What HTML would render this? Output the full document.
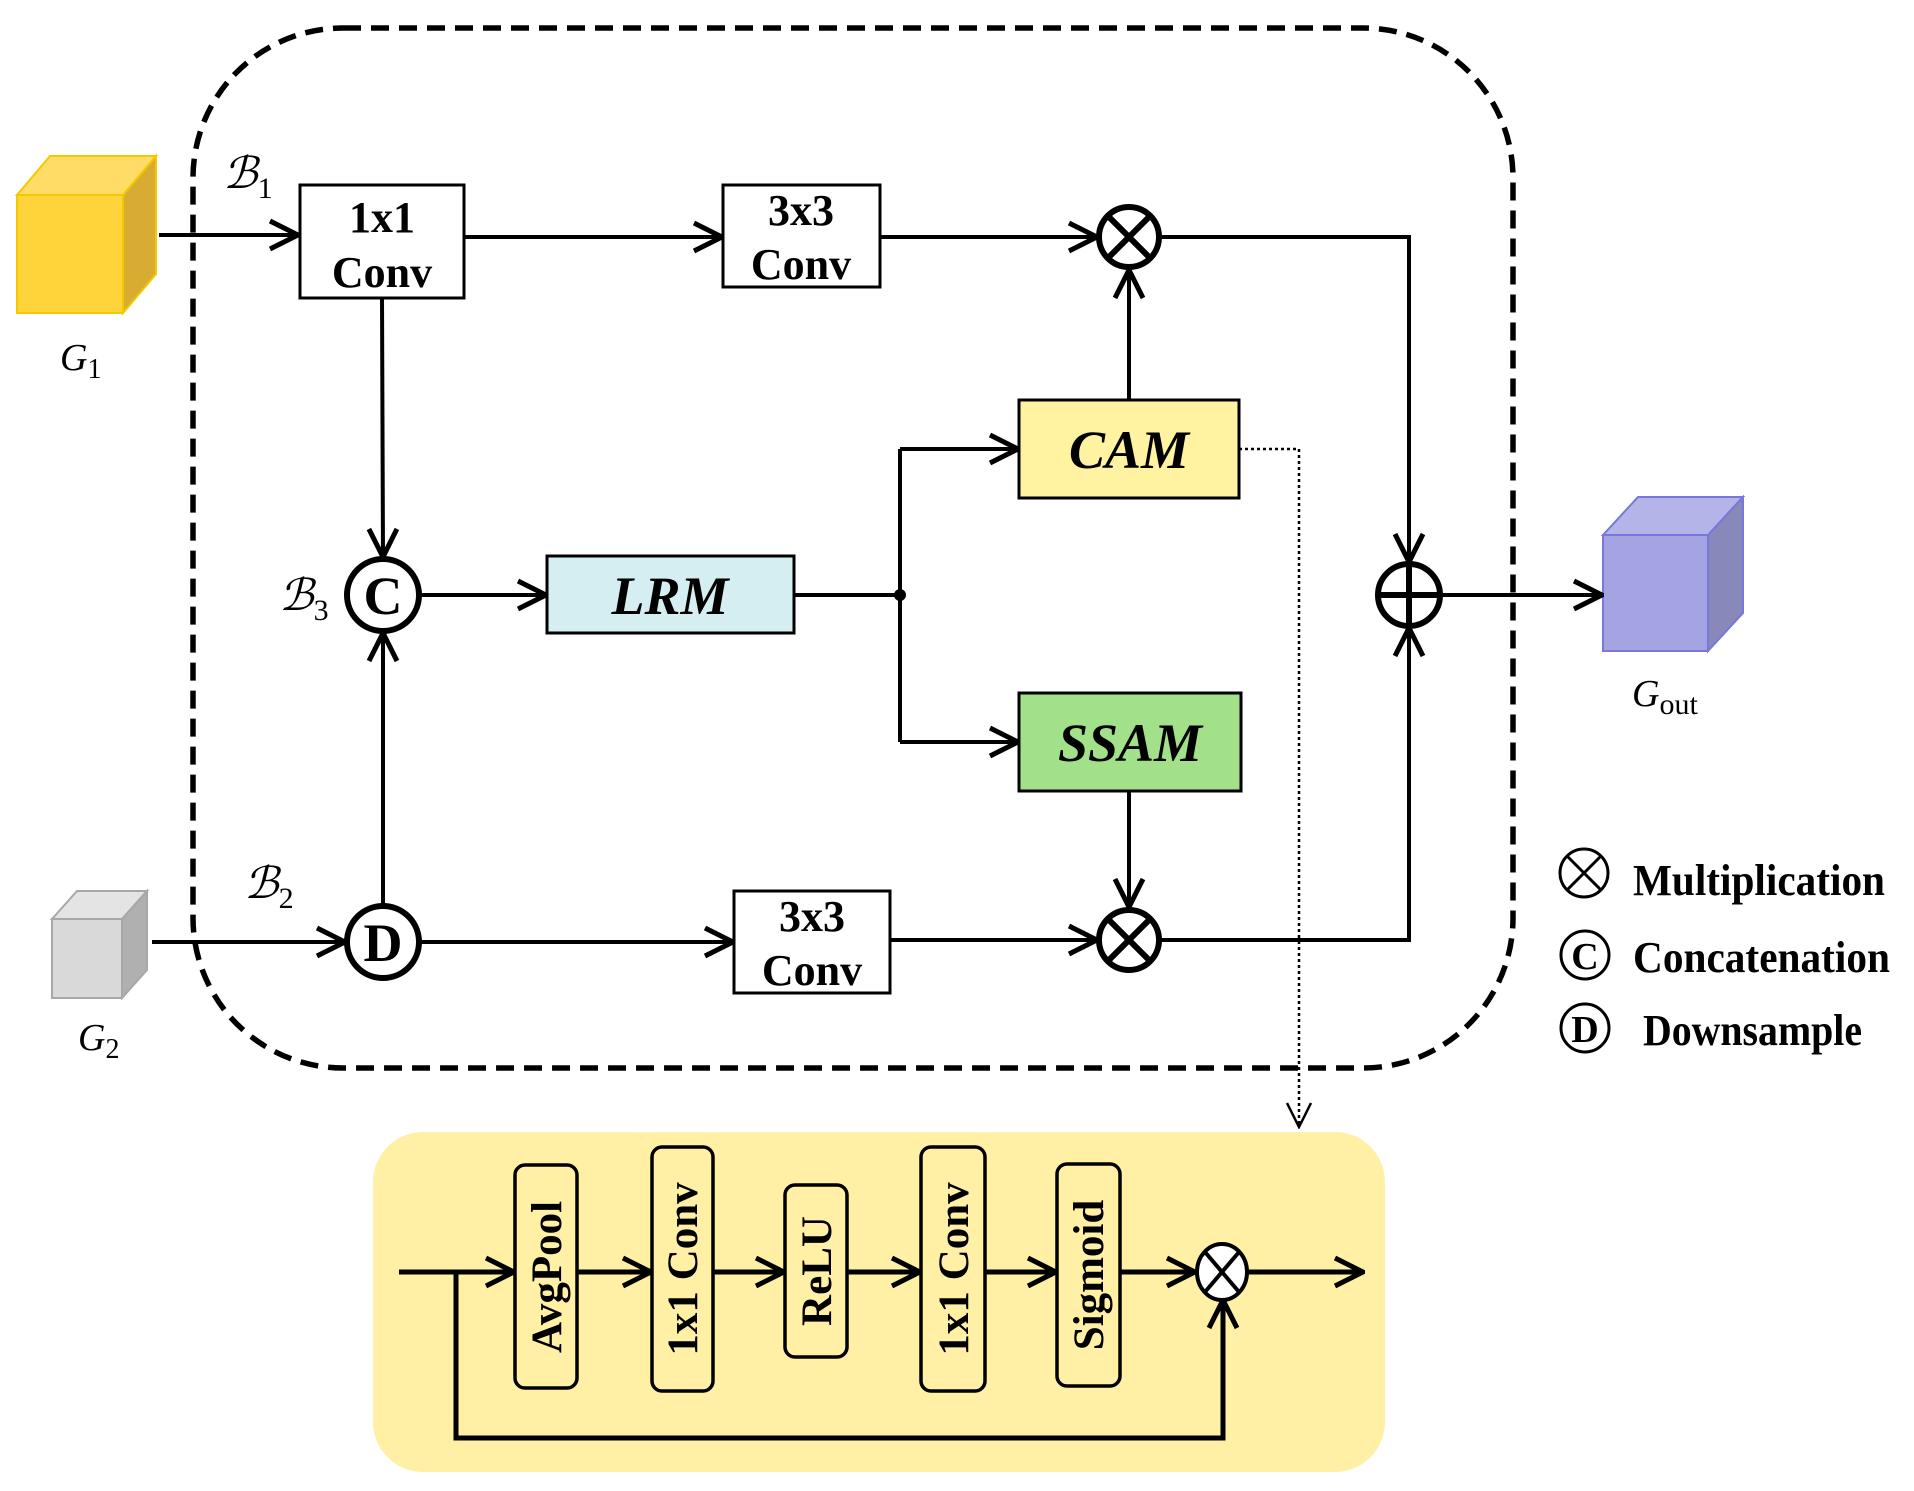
<!DOCTYPE html>
<html><head><meta charset="utf-8"><style>
html,body{margin:0;padding:0;background:#fff;}
svg{display:block;}
text{font-family:"Liberation Serif",serif;}
</style></head><body>
<svg width="1914" height="1491" viewBox="0 0 1914 1491" xmlns="http://www.w3.org/2000/svg">
<defs>
<marker id="b" viewBox="0 0 34 34" refX="33" refY="17" markerWidth="34" markerHeight="34" markerUnits="userSpaceOnUse" orient="auto">
<polyline points="4,3 32,17 4,31" fill="none" stroke="#000" stroke-width="5"/>
</marker>
<marker id="d" viewBox="0 0 30 30" refX="28" refY="15" markerWidth="30" markerHeight="30" markerUnits="userSpaceOnUse" orient="auto">
<polyline points="4,3 28,15 4,27" fill="none" stroke="#000" stroke-width="2.5"/>
</marker>
</defs>

<rect x="193" y="28" width="1320" height="1040" rx="150" ry="150" fill="none" stroke="#000" stroke-width="5.5" stroke-dasharray="18,10"/>

<rect x="373" y="1132" width="1012" height="340" rx="50" ry="50" fill="#FFF0A6"/>

<polygon points="17,195 50,156 156,156 123,195" fill="#FFDC66" stroke="#F5C800" stroke-width="2"/>
<polygon points="123,195 156,156 156,274 123,313" fill="#D8AC33" stroke="#F5C800" stroke-width="2"/>
<rect x="17" y="195" width="106" height="118" fill="#FFD43B" stroke="#F5C800" stroke-width="2"/>
<text x="60" y="370" font-size="38" font-style="italic">G<tspan font-size="28" font-style="normal" dy="8">1</tspan></text>

<polygon points="52,919 77,891 147,891 122,919" fill="#E4E4E4" stroke="#A8A8A8" stroke-width="2"/>
<polygon points="122,919 147,891 147,970 122,998" fill="#B0B0B0" stroke="#A8A8A8" stroke-width="2"/>
<rect x="52" y="919" width="70" height="79" fill="#D9D9D9" stroke="#A8A8A8" stroke-width="2"/>
<text x="78" y="1050" font-size="38" font-style="italic">G<tspan font-size="28" font-style="normal" dy="8">2</tspan></text>

<polygon points="1603,535 1638,497 1743,497 1708,535" fill="#B4B4E8" stroke="#7777DD" stroke-width="2"/>
<polygon points="1708,535 1743,497 1743,613 1708,651" fill="#8888BB" stroke="#7777DD" stroke-width="2"/>
<rect x="1603" y="535" width="105" height="116" fill="#A4A4E2" stroke="#7777DD" stroke-width="2"/>
<text x="1632" y="706" font-size="38" font-style="italic">G<tspan font-size="30" font-style="normal" dy="8">out</tspan></text>

<text x="223" y="188" font-size="44" font-style="italic">ℬ<tspan font-size="30" font-style="normal" dy="10">1</tspan></text>
<text x="244" y="898" font-size="44" font-style="italic">ℬ<tspan font-size="30" font-style="normal" dy="10">2</tspan></text>
<text x="279" y="610" font-size="44" font-style="italic">ℬ<tspan font-size="30" font-style="normal" dy="10">3</tspan></text>

<g stroke="#000" stroke-width="4" fill="none">
<line x1="159" y1="235" x2="299" y2="235" marker-end="url(#b)"/>
<line x1="464" y1="237" x2="723" y2="237" marker-end="url(#b)"/>
<line x1="880" y1="237" x2="1098" y2="237" marker-end="url(#b)"/>
<line x1="382" y1="298" x2="383" y2="558" marker-end="url(#b)"/>
<line x1="383" y1="905" x2="383" y2="632" marker-end="url(#b)"/>
<line x1="420" y1="595" x2="547" y2="595" marker-end="url(#b)"/>
<line x1="794" y1="595" x2="900" y2="595"/>
<polyline points="900,449 900,742"/>
<line x1="900" y1="449" x2="1019" y2="449" marker-end="url(#b)"/>
<line x1="900" y1="742" x2="1019" y2="742" marker-end="url(#b)"/>
<line x1="1129" y1="400" x2="1129" y2="269" marker-end="url(#b)"/>
<line x1="1129" y1="791" x2="1129" y2="908" marker-end="url(#b)"/>
<line x1="152" y1="942" x2="346" y2="942" marker-end="url(#b)"/>
<line x1="420" y1="942" x2="734" y2="942" marker-end="url(#b)"/>
<line x1="890" y1="940" x2="1098" y2="940" marker-end="url(#b)"/>
<polyline points="1160,237 1409,237 1409,563" marker-end="url(#b)"/>
<polyline points="1160,940 1409,940 1409,627" marker-end="url(#b)"/>
<line x1="1441" y1="595" x2="1603" y2="595" marker-end="url(#b)"/>
</g>
<circle cx="900" cy="595" r="6" fill="#000"/>

<polyline points="1239,449 1299,449 1299,1127" fill="none" stroke="#000" stroke-width="2.5" stroke-dasharray="3,3" marker-end="url(#d)"/>

<rect x="300" y="185" width="164" height="113" fill="#fff" stroke="#000" stroke-width="3"/>
<text x="382" y="232" font-size="44" font-weight="bold" text-anchor="middle">1x1</text>
<text x="382" y="287" font-size="44" font-weight="bold" text-anchor="middle">Conv</text>

<rect x="723" y="185" width="157" height="102" fill="#fff" stroke="#000" stroke-width="3"/>
<text x="801" y="225" font-size="44" font-weight="bold" text-anchor="middle">3x3</text>
<text x="801" y="279" font-size="44" font-weight="bold" text-anchor="middle">Conv</text>

<rect x="734" y="891" width="156" height="102" fill="#fff" stroke="#000" stroke-width="3"/>
<text x="812" y="931" font-size="44" font-weight="bold" text-anchor="middle">3x3</text>
<text x="812" y="985" font-size="44" font-weight="bold" text-anchor="middle">Conv</text>

<rect x="547" y="556" width="247" height="77" fill="#D4EEF2" stroke="#000" stroke-width="3"/>
<text x="670" y="614" font-size="54" font-weight="bold" font-style="italic" text-anchor="middle">LRM</text>

<rect x="1019" y="400" width="220" height="98" fill="#FFF2A0" stroke="#000" stroke-width="3"/>
<text x="1129" y="468" font-size="54" font-weight="bold" font-style="italic" text-anchor="middle">CAM</text>

<rect x="1019" y="693" width="222" height="98" fill="#A2E08A" stroke="#000" stroke-width="3"/>
<text x="1130" y="761" font-size="54" font-weight="bold" font-style="italic" text-anchor="middle">SSAM</text>

<g fill="#fff" stroke="#000" stroke-width="6">
<circle cx="1129" cy="237" r="30"/>
<circle cx="1129" cy="940" r="30"/>
<circle cx="1409" cy="595" r="31"/>
<circle cx="383" cy="595" r="36"/>
<circle cx="383" cy="942" r="36"/>
</g>
<g stroke="#000" stroke-width="6">
<line x1="1108" y1="216" x2="1150" y2="258"/><line x1="1150" y1="216" x2="1108" y2="258"/>
<line x1="1108" y1="919" x2="1150" y2="961"/><line x1="1150" y1="919" x2="1108" y2="961"/>
<line x1="1378" y1="595" x2="1440" y2="595"/><line x1="1409" y1="564" x2="1409" y2="626"/>
</g>
<text x="383" y="614" font-size="54" font-weight="bold" text-anchor="middle">C</text>
<text x="383" y="961" font-size="54" font-weight="bold" text-anchor="middle">D</text>

<g fill="none" stroke="#000" stroke-width="3">
<circle cx="1584" cy="873" r="24"/>
<line x1="1567" y1="856" x2="1601" y2="890"/><line x1="1601" y1="856" x2="1567" y2="890"/>
<circle cx="1585" cy="955" r="24"/>
<circle cx="1585" cy="1028" r="24"/>
</g>
<text x="1585" y="969" font-size="38" font-weight="bold" text-anchor="middle">C</text>
<text x="1585" y="1042" font-size="38" font-weight="bold" text-anchor="middle">D</text>
<text x="1633" y="895" font-size="44" font-weight="bold" textLength="252" lengthAdjust="spacingAndGlyphs">Multiplication</text>
<text x="1633" y="972" font-size="44" font-weight="bold" textLength="257" lengthAdjust="spacingAndGlyphs">Concatenation</text>
<text x="1643" y="1045" font-size="44" font-weight="bold" textLength="219" lengthAdjust="spacingAndGlyphs">Downsample</text>

<g stroke="#000" stroke-width="5" fill="none">
<line x1="399" y1="1272" x2="515" y2="1272" marker-end="url(#b)"/>
<line x1="577" y1="1272" x2="652" y2="1272" marker-end="url(#b)"/>
<line x1="713" y1="1272" x2="785" y2="1272" marker-end="url(#b)"/>
<line x1="847" y1="1272" x2="921" y2="1272" marker-end="url(#b)"/>
<line x1="985" y1="1272" x2="1057" y2="1272" marker-end="url(#b)"/>
<line x1="1120" y1="1272" x2="1196" y2="1272" marker-end="url(#b)"/>
<line x1="1248" y1="1272" x2="1364" y2="1272" marker-end="url(#b)"/>
<polyline points="456,1272 456,1438 1223,1438 1223,1299" marker-end="url(#b)"/>
</g>
<g fill="#FFF0A6" stroke="#000" stroke-width="3.5">
<rect x="515" y="1165" width="62" height="223" rx="10"/>
<rect x="652" y="1147" width="61" height="244" rx="10"/>
<rect x="785" y="1185" width="62" height="172" rx="10"/>
<rect x="921" y="1147" width="64" height="244" rx="10"/>
<rect x="1057" y="1164" width="63" height="222" rx="10"/>
</g>
<g font-size="43" font-weight="bold" text-anchor="middle">
<text transform="translate(561,1277) rotate(-90)">AvgPool</text>
<text transform="translate(697,1269) rotate(-90)">1x1 Conv</text>
<text transform="translate(831,1271) rotate(-90)">ReLU</text>
<text transform="translate(968,1269) rotate(-90)">1x1 Conv</text>
<text transform="translate(1103,1275) rotate(-90)">Sigmoid</text>
</g>
<ellipse cx="1222" cy="1272" rx="25" ry="28" fill="#fff" stroke="#000" stroke-width="4"/>
<g stroke="#000" stroke-width="4">
<line x1="1205" y1="1252" x2="1239" y2="1292"/><line x1="1239" y1="1252" x2="1205" y2="1292"/>
</g>
</svg>
</body></html>
